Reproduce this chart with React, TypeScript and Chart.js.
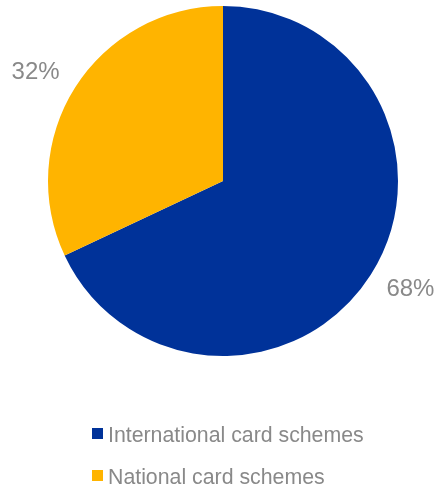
import React, { useEffect, useRef } from "react";
import { Chart, registerables } from "chart.js";

Chart.register(...registerables);

const categories = ["International card schemes", "National card schemes"];
const shares = [68, 32];
const colors = ["#003299", "#FFB400"];
const valueLabels = ["68%", "32%"];

const TEXT_COLOR = "#898989";
const FONT = "'Liberation Sans', Arial, sans-serif";

const labelPlugin = {
  id: "customLabels",
  afterDraw(chart: any) {
    const ctx = chart.ctx;
    const meta = chart.getDatasetMeta(0);
    ctx.save();
    ctx.fillStyle = TEXT_COLOR;
    ctx.font = `24px ${FONT}`;
    ctx.textAlign = "center";
    ctx.textBaseline = "middle";
    meta.data.forEach((arc: any, i: number) => {
      const { x, y, startAngle, endAngle, outerRadius } = arc.getProps(
        ["x", "y", "startAngle", "endAngle", "outerRadius"],
        true
      );
      const mid = (startAngle + endAngle) / 2;
      const lx = x + Math.cos(mid) * (outerRadius + 47);
      const ly = y + Math.sin(mid) * (outerRadius + 27);
      ctx.fillText(valueLabels[i], lx, ly);
    });

    // legend
    const area = chart.chartArea;
    const top = area.bottom + 72;
    const left = 92;
    ctx.font = `21.3px ${FONT}`;
    ctx.textAlign = "left";
    ctx.textBaseline = "alphabetic";
    categories.forEach((c, i) => {
      const yy = top + i * 42;
      ctx.fillStyle = colors[i];
      ctx.fillRect(left, yy, 11, 11);
      ctx.fillStyle = TEXT_COLOR;
      ctx.fillText(c, left + 16, yy + 14);
    });
    ctx.restore();
  },
};

export default function App() {
  const ref = useRef<HTMLCanvasElement>(null);
  useEffect(() => {
    if (!ref.current) return;
    const chart = new Chart(ref.current, {
      type: "pie",
      data: {
        labels: categories,
        datasets: [
          {
            data: shares,
            backgroundColor: colors,
            borderWidth: 0,
          },
        ],
      },
      options: {
        animation: false,
        responsive: false,
        maintainAspectRatio: false,
        layout: { padding: { left: 48, right: 37, top: 6, bottom: 128 } },
        plugins: {
          legend: { display: false },
          tooltip: { enabled: false },
        },
      },
      plugins: [labelPlugin],
    });
    return () => chart.destroy();
  }, []);
  return (
    <div style={{ position: "absolute", left: 0, top: 0, width: 435, height: 484, background: "#fff" }}>
      <canvas ref={ref} width={435} height={484} style={{ display: "block" }} />
    </div>
  );
}
